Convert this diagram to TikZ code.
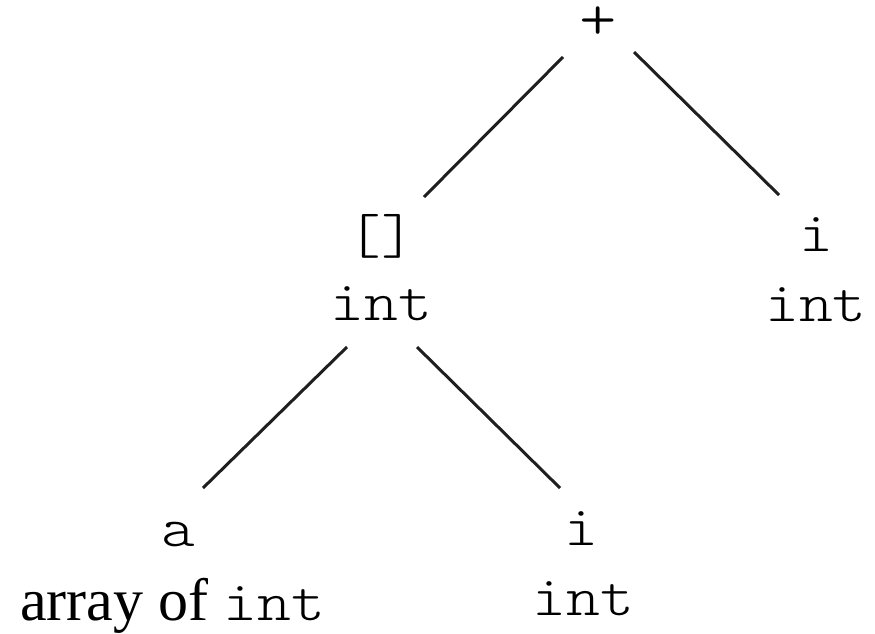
\documentclass[tikz,border=0pt]{standalone}
\usepackage{fontspec}
\usetikzlibrary{calc}
\newfontfamily\codefont{lmmonolt10-regular}[Extension=.otf, FakeStretch=1.15]
\newfontfamily\prosefont{Liberation Serif}
\begin{document}
\begin{tikzpicture}[x=1pt,y=-1pt,
  code/.style={font=\codefont\fontsize{56}{60}\selectfont, inner sep=0pt, anchor=base},
  edge/.style={line width=3pt, draw=black!88}]
\useasboundingbox (0,0) rectangle (875,633);

% operator and operand labels
\node[code, font=\codefont\fontsize{62}{66}\selectfont] (plus) at (598,39.5) {\smash{+}};
\node[code] (idx)  at (381,253) {[]};
\node[code] (idxT) at (381.5,320) {int};
\node[code] (ri)   at (816,251) {i};
\node[code] (riT)  at (816,321) {int};
\node[code] (a)    at (178,546) {a};
\node[code] (aT)   at (172.5,620) {{\prosefont\fontsize{60}{64}\selectfont array of }int};
\node[code] (bi)   at (581,545) {i};
\node[code] (biT)  at (583.5,615) {int};

% tree edges
\draw[edge] ($(plus.base)+(-35,17.5)$) -- ($(idx.base)+(43,-56)$);
\draw[edge] ($(plus.base)+(36,12.5)$) -- ($(ri.base)+(-37,-56)$);
\draw[edge] ($(idxT.base)+(-34.5,27)$) -- ($(a.base)+(25,-58)$);
\draw[edge] ($(idxT.base)+(35.5,27)$) -- ($(bi.base)+(-21,-57)$);
\end{tikzpicture}
\end{document}
